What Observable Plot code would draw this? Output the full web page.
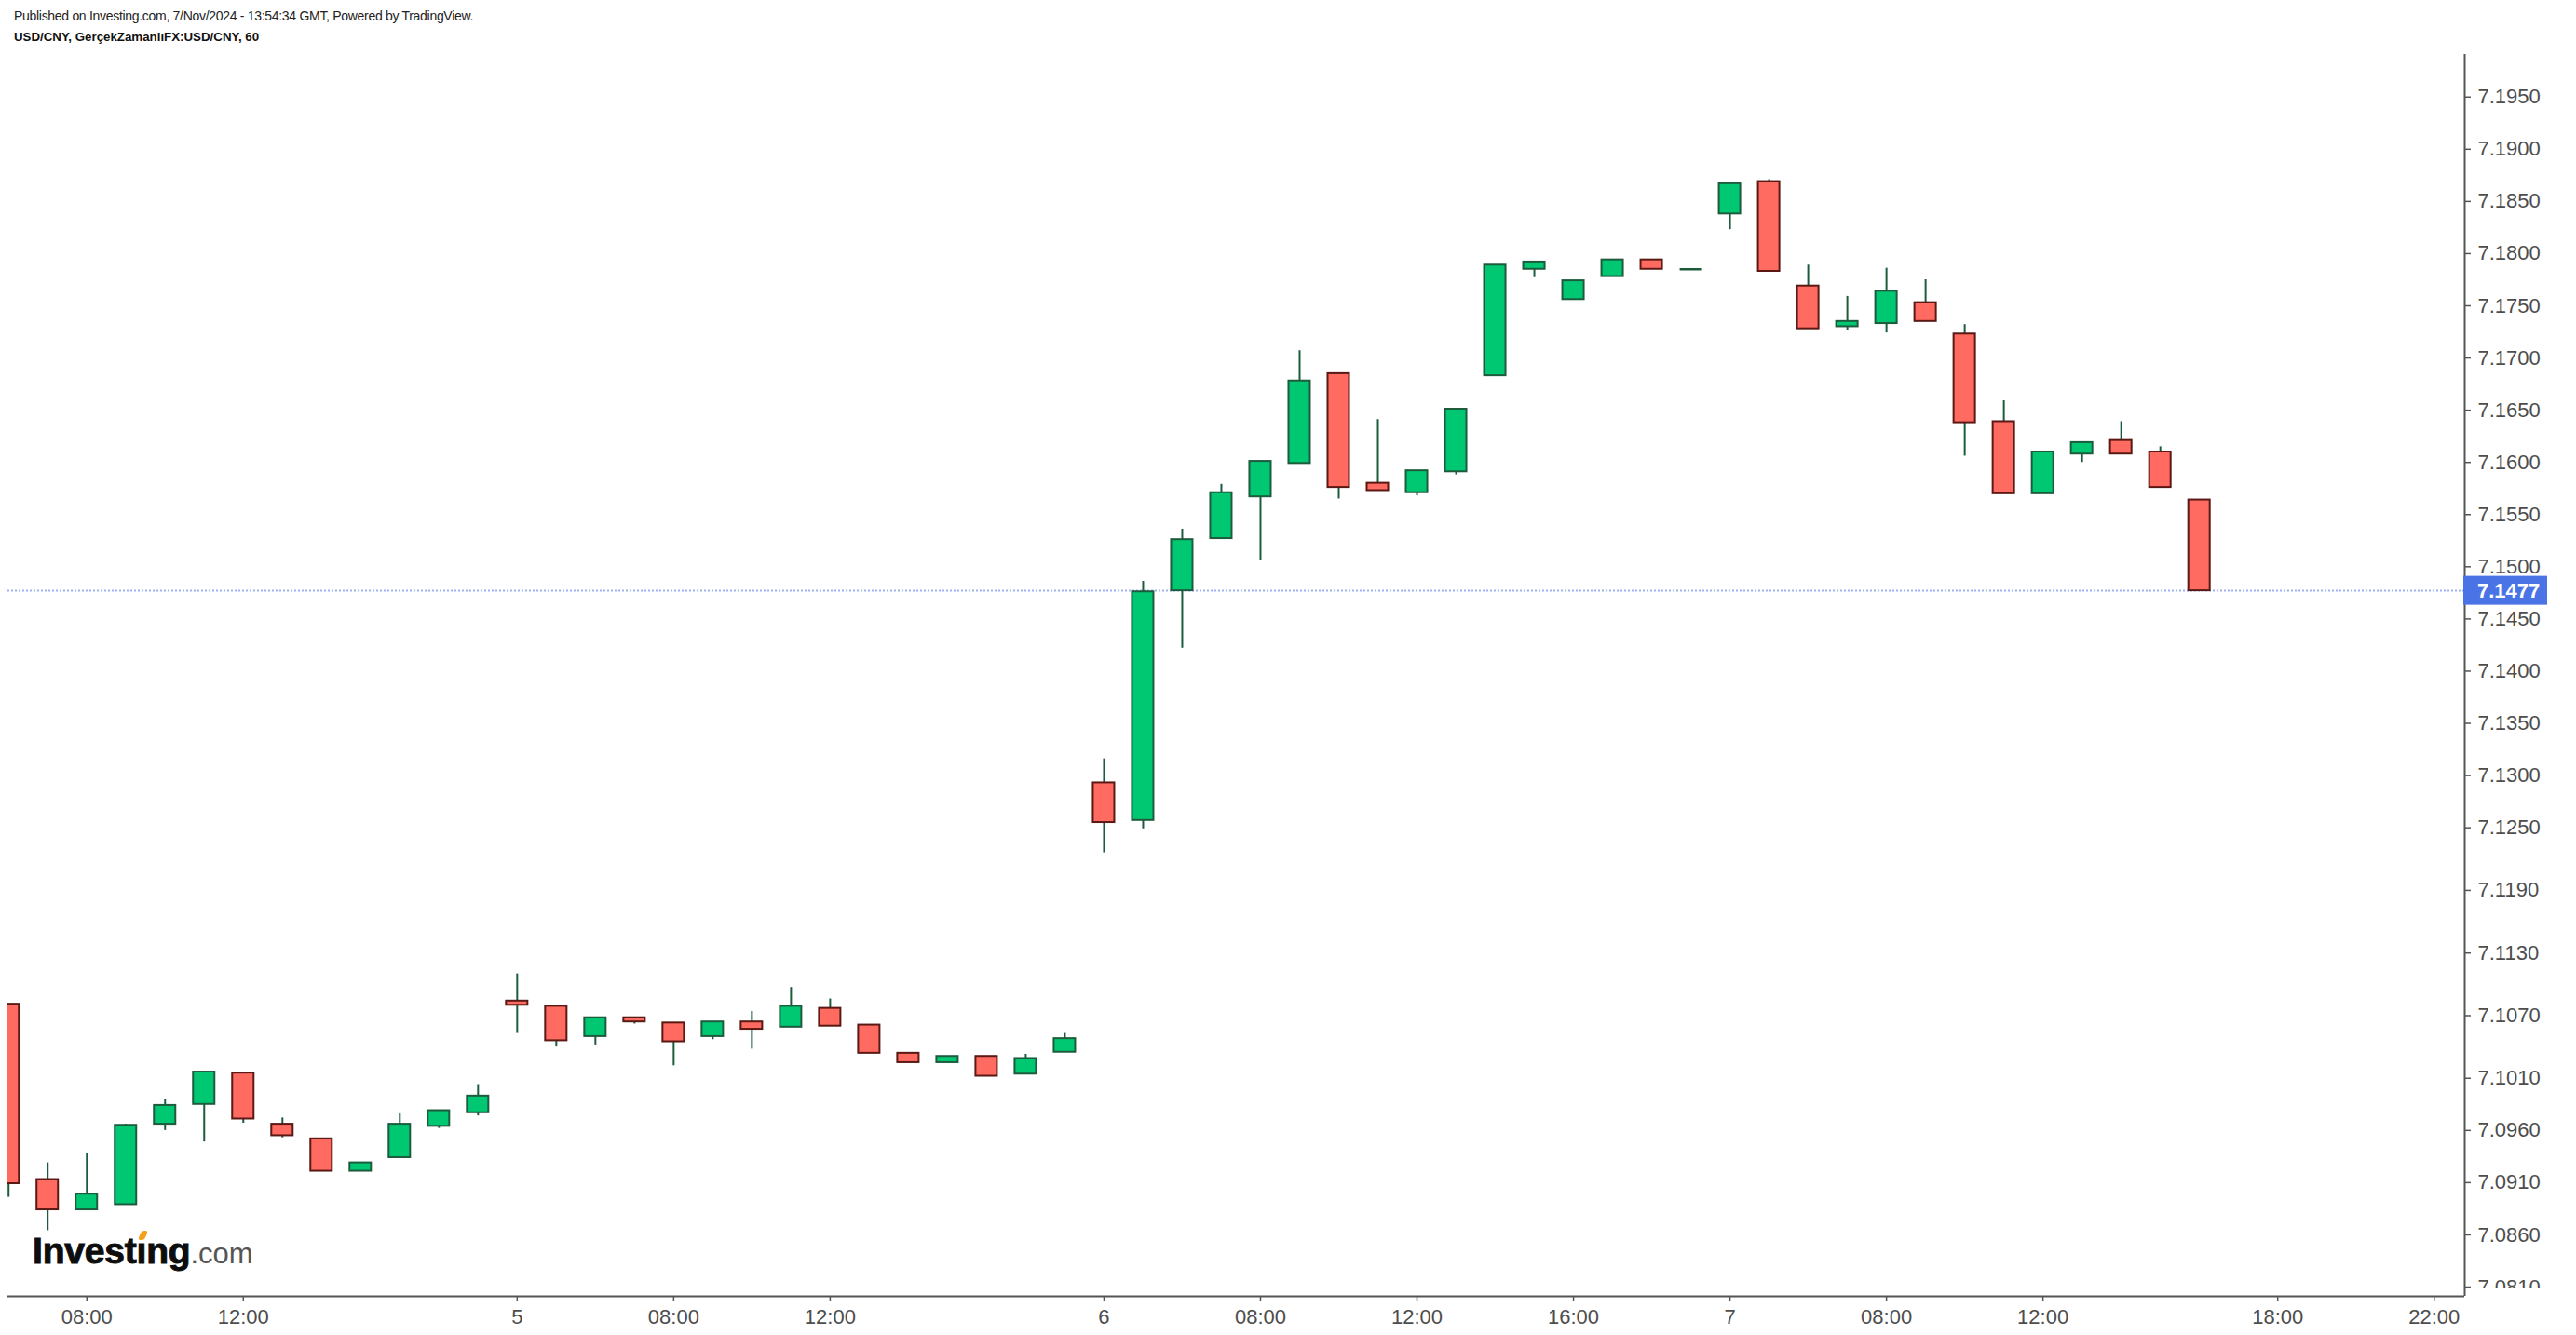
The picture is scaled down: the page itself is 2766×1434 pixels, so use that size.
<!DOCTYPE html>
<html>
<head>
<meta charset="utf-8">
<script src="https://cdn.jsdelivr.net/npm/d3@7"></script>
<script src="https://cdn.jsdelivr.net/npm/@observablehq/plot@0.6"></script>
<style>
  html, body { margin: 0; padding: 0; background: #fff; width: 2766px; height: 1434px; overflow: hidden; font-family: "Liberation Sans", Arial, sans-serif; }
  #wrap { position: relative; width: 2766px; height: 1434px; }
  #header { position: relative; height: 50px; }
  .l1 { position: absolute; left: 15px; top: 10px; font-size: 14px; line-height: 1; color: #222; white-space: nowrap; letter-spacing: -0.3px; }
  .l2 { position: absolute; left: 15px; top: 33px; font-size: 13.3px; line-height: 1; font-weight: bold; color: #111; white-space: nowrap; }
  #logo { position: absolute; left: 35px; top: 1323.7px; font-size: 39px; line-height: 1; white-space: nowrap; }
  #logo .inv { font-weight: bold; color: #0d0d0d; letter-spacing: -0.2px; -webkit-text-stroke: 1px #0d0d0d; }
  #logo .i { position: relative; }
  #logo .dot { position: absolute; left: 3px; top: 0px; width: 7px; height: 10px; background: #f5a01a; border-radius: 3px; transform: skewX(-22deg); -webkit-text-stroke: 0; }
  #logo .com { font-size: 31px; color: #555; }
  #chart svg { display: block; }
</style>
</head>
<body>
<div id="wrap">
  <div id="header">
    <div class="l1">Published on Investing.com, 7/Nov/2024 - 13:54:34 GMT, Powered by TradingView.</div>
    <div class="l2">USD/CNY, GerçekZamanlıFX:USD/CNY, 60</div>
  </div>
  <div id="chart"></div>
  <div id="logo"><span class="inv">Invest<span class="i">ı<span class="dot"></span></span>ng</span><span class="com">.com</span></div>
</div>
<script>
// ---- Data (hourly bars, index 0..56) ----
const opens  = [7.1081,7.0913,7.0884,7.0889,7.0966,7.0985,7.1015,7.0966,7.0952,7.0921,
                7.0934,7.0964,7.0977,7.1084,7.1079,7.1050,7.1068,7.1063,7.1050,7.1064,
                7.1059,7.1077,7.1061,7.1034,7.1025,7.1031,7.1014,7.1035,7.1293,7.1257,
                7.1477,7.1527,7.1567,7.1599,7.1685,7.1580,7.1571,7.1591,7.1683,7.1785,
                7.1756,7.1778,7.1794,7.1785,7.1838,7.1869,7.1769,7.1730,7.1733,7.1753,
                7.1723,7.1639,7.1570,7.1608,7.1621,7.1610,7.1564];
const highs  = [7.1081,7.0929,7.0938,7.0966,7.0990,7.1016,7.1015,7.0972,7.0952,7.0929,
                7.0976,7.0979,7.1004,7.1110,7.1079,7.1068,7.1068,7.1063,7.1064,7.1074,
                7.1097,7.1086,7.1061,7.1034,7.1031,7.1031,7.1033,7.1053,7.1316,7.1486,
                7.1536,7.1579,7.1601,7.1707,7.1685,7.1641,7.1592,7.1651,7.1789,7.1792,
                7.1774,7.1794,7.1794,7.1785,7.1867,7.1871,7.1789,7.1759,7.1786,7.1775,
                7.1732,7.1659,7.1610,7.1619,7.1639,7.1615,7.1564];
const lows   = [7.0896,7.0864,7.0884,7.0889,7.0960,7.0949,7.0967,7.0953,7.0921,7.0921,
                7.0934,7.0962,7.0974,7.1053,7.1040,7.1042,7.1062,7.1022,7.1047,7.1038,
                7.1059,7.1060,7.1034,7.1025,7.1025,7.1012,7.1014,7.1035,7.1226,7.1249,
                7.1422,7.1527,7.1506,7.1599,7.1565,7.1573,7.1568,7.1588,7.1683,7.1777,
                7.1756,7.1778,7.1785,7.1785,7.1823,7.1783,7.1728,7.1726,7.1724,7.1735,
                7.1606,7.1570,7.1570,7.1600,7.1608,7.1576,7.1477];
const closes = [7.0909,7.0884,7.0899,7.0965,7.0984,7.1016,7.0971,7.0955,7.0921,7.0929,
                7.0966,7.0979,7.0993,7.1080,7.1046,7.1068,7.1064,7.1045,7.1064,7.1057,
                7.1079,7.1060,7.1034,7.1025,7.1031,7.1012,7.1029,7.1048,7.1255,7.1476,
                7.1526,7.1571,7.1601,7.1678,7.1576,7.1573,7.1592,7.1651,7.1789,7.1792,
                7.1774,7.1794,7.1785,7.1785,7.1867,7.1783,7.1728,7.1735,7.1764,7.1735,
                7.1638,7.1570,7.1610,7.1619,7.1608,7.1576,7.1477];
const lastPrice = 7.1477;

// x-axis ticks (bar index -> label)
const xTickIndex  = [2, 6, 13, 17, 21, 28, 32, 36, 40, 44, 48, 52, 58, 62];
const xTickLabels = ["08:00","12:00","5","08:00","12:00","6","08:00","12:00","16:00","7","08:00","12:00","18:00","22:00"];
// y-axis tick labels
const yTickValues = [7.1950,7.1900,7.1850,7.1800,7.1750,7.1700,7.1650,7.1600,7.1550,7.1500,7.1450,7.1400,
                     7.1350,7.1300,7.1250,7.1190,7.1130,7.1070,7.1010,7.0960,7.0910,7.0860,7.0810];

// ---- Layout / style constants ----
const xDomain = [-0.017, 62.78];
const yDomain = [7.08011, 7.19908];
const half = 0.274;
const upFill = "#00c872", upStroke = "#1d5b3d";
const downFill = "#ff6a61", downStroke = "#5a1914";
const wickColor = "#1d5b3d";
const axisColor = "#555555";

const candles = opens.map((o, i) => ({i, open: o, high: highs[i], low: lows[i], close: closes[i]}));
const ups = candles.filter(d => d.close > d.open);
const downs = candles.filter(d => d.close < d.open);
const dojis = candles.filter(d => d.close === d.open);

const chart = Plot.plot({
  width: 2766,
  height: 1384,
  marginLeft: 8,
  marginRight: 120,
  marginTop: 8,
  marginBottom: 42,
  style: {fontFamily: "'Liberation Sans', Arial, sans-serif", fontSize: "22px", color: "#4d4d4d", background: "#fff", overflow: "visible"},
  x: {type: "linear", domain: xDomain, axis: null},
  y: {type: "linear", domain: yDomain, axis: null},
  marks: [
    Plot.ruleY([lastPrice], {stroke: "#9fb2f3", strokeWidth: 2, strokeDasharray: "2,2"}),
    Plot.ruleX(candles, {x: "i", y1: "low", y2: "high", stroke: wickColor, strokeWidth: 2, clip: true}),
    Plot.rect(ups, {x1: d => d.i - half, x2: d => d.i + half, y1: "open", y2: "close", fill: upFill, stroke: upStroke, strokeWidth: 2, clip: true}),
    Plot.rect(downs, {x1: d => d.i - half, x2: d => d.i + half, y1: "open", y2: "close", fill: downFill, stroke: downStroke, strokeWidth: 2, clip: true}),
    Plot.ruleY(dojis, {x1: d => d.i - half, x2: d => d.i + half, y: "open", stroke: wickColor, strokeWidth: 2.5}),
    Plot.ruleY([yDomain[0]], {stroke: axisColor, strokeWidth: 2}),
    Plot.ruleX([xDomain[1]], {stroke: axisColor, strokeWidth: 2}),
    Plot.axisY({anchor: "right", ticks: yTickValues, tickFormat: d3.format(".4f"), tickSize: 6, tickPadding: 8, strokeWidth: 1.5, stroke: axisColor, label: null}),
    Plot.axisX({anchor: "bottom", ticks: xTickIndex, tickFormat: v => xTickLabels[xTickIndex.indexOf(v)], tickSize: 6, tickPadding: 8, strokeWidth: 1.5, stroke: axisColor, label: null})
  ]
});

document.getElementById("chart").appendChild(chart);

// clip the y tick labels at the bottom like the reference (last label cut off)
const svg = d3.select(chart);
const yBottom = chart.scale("y").apply(yDomain[0]);
const defs = svg.insert("defs", ":first-child");
defs.append("clipPath").attr("id", "ylabclip")
  .append("rect").attr("x", 0).attr("y", 0).attr("width", 2766).attr("height", yBottom - 9);
svg.selectAll('g[aria-label="y-axis tick label"]').attr("clip-path", "url(#ylabclip)");

// current price label box on the right axis
const ys = chart.scale("y").apply(lastPrice);
const xr = chart.scale("x").apply(xDomain[1]);
const lab = svg.append("g").attr("text-anchor", "start");
lab.append("rect").attr("x", xr - 1).attr("y", ys - 15.5).attr("width", 90).attr("height", 31).attr("fill", "#4a74e6");
lab.append("text").attr("x", xr + 14).attr("y", ys).attr("dy", "0.36em")
  .attr("text-anchor", "start")
  .attr("fill", "#fff").attr("font-weight", "bold").attr("font-size", 22)
  .text(d3.format(".4f")(lastPrice));
</script>
</body>
</html>
